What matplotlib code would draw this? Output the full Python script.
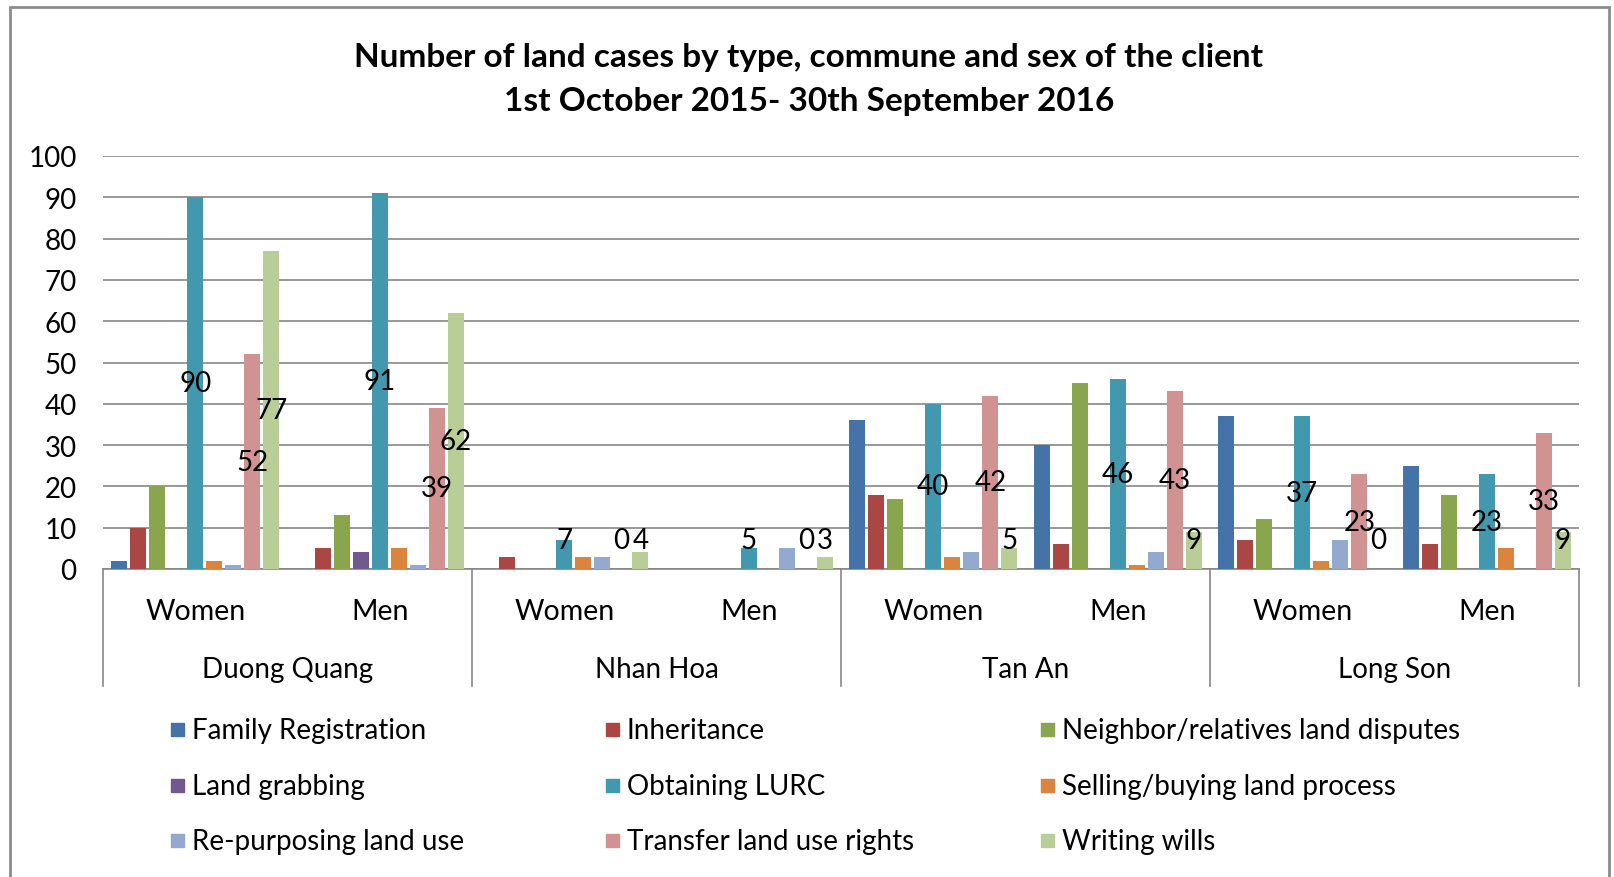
import numpy as np
import matplotlib.pyplot as plt
from matplotlib.patches import Rectangle
from matplotlib.transforms import blended_transform_factory

plt.rcParams['font.family'] = ['Lato', 'DejaVu Sans']

communes = ['Duong Quang', 'Nhan Hoa', 'Tan An', 'Long Son']
sexes = ['Women', 'Men']
series = ['Family Registration', 'Inheritance', 'Neighbor/relatives land disputes',
          'Land grabbing', 'Obtaining LURC', 'Selling/buying land process',
          'Re-purposing land use', 'Transfer land use rights', 'Writing wills']
colors = ['#4572A7', '#AA4643', '#89A54E', '#71588F', '#4198AF', '#DB843D',
          '#93A9CF', '#D19392', '#B9CD96']

# groups: DQ W, DQ M, NH W, NH M, TA W, TA M, LS W, LS M
family_reg = [2, 0, 0, 0, 36, 30, 37, 25]
inheritance = [10, 5, 3, 0, 18, 6, 7, 6]
neighbor = [20, 13, 0, 0, 17, 45, 12, 18]
land_grab = [0, 4, 0, 0, 0, 0, 0, 0]
lurc = [90, 91, 7, 5, 40, 46, 37, 23]
selling = [2, 5, 3, 0, 3, 1, 2, 5]
repurpose = [1, 1, 3, 5, 4, 4, 7, 0]
transfer = [52, 39, 0, 0, 42, 43, 23, 33]
wills = [77, 62, 4, 3, 5, 9, 0, 9]
values = [family_reg, inheritance, neighbor, land_grab, lurc, selling,
          repurpose, transfer, wills]
labelled = [4, 7, 8]

W, H = 1615, 878
fig = plt.figure(figsize=(W / 100, H / 100), dpi=100)
ax = fig.add_axes([103 / W, 1 - 570 / H, (1579 - 103) / W, (570 - 157) / H])

x = np.arange(8)
slot = 0.103
bw = 0.087
for i, (name, vals) in enumerate(zip(series, values)):
    pos = x + (i - 4) * slot
    ax.bar(pos, vals, bw, color=colors[i], zorder=3)
    if i in labelled:
        for px, v in zip(pos, vals):
            ax.text(px, max(v / 2, 7), str(v), ha='center', va='center',
                    fontsize=20, color='black', zorder=4)

ax.set_xlim(-0.5, 7.5)
ax.set_ylim(0, 100)
ax.set_yticks(range(0, 101, 10))
ax.tick_params(axis='y', length=0, labelsize=20, pad=19)
ax.set_xticks([])
ax.grid(axis='y', color='#868686', lw=1.2, zorder=0)
for s in ['left', 'right', 'top']:
    ax.spines[s].set_visible(False)
ax.spines['bottom'].set_color('#868686')
ax.spines['bottom'].set_linewidth(1.2)

# two-level category axis
tr = blended_transform_factory(ax.transData, ax.transAxes)
for g in range(8):
    ax.text(g, -0.102, sexes[g % 2], transform=tr, ha='center', va='center',
            fontsize=20.5)
for c, name in enumerate(communes):
    ax.text(2 * c + 0.5, -0.242, name, transform=tr, ha='center', va='center',
            fontsize=20)
for b in [-0.5, 1.5, 3.5, 5.5, 7.5]:
    ax.plot([b, b], [0, -0.283], transform=tr, color='#868686', lw=1.2,
            clip_on=False)

# title
fig.text(809 / W, 1 - 57 / H, 'Number of land cases by type, commune and sex of the client',
         ha='center', va='center', fontsize=24, fontweight='bold')
fig.text(809 / W, 1 - 101 / H, '1st October 2015- 30th September 2016',
         ha='center', va='center', fontsize=24, fontweight='bold')

# legend
col_x = [171, 606, 1041]
row_y = [731, 787, 842]
for i, name in enumerate(series):
    lx, ly = col_x[i % 3], row_y[i // 3]
    fig.add_artist(Rectangle((lx / W, 1 - (ly + 6) / H), 13 / W, 13 / H,
                             transform=fig.transFigure, color=colors[i]))
    fig.text((lx + 21) / W, 1 - ly / H, name, ha='left', va='center', fontsize=20)

# outer chart border
fig.add_artist(Rectangle((10 / W, -0.01), (1609 - 10) / W, 1 - 8 / H + 0.01,
                         transform=fig.transFigure, fill=False,
                         edgecolor='#8c8c8c', lw=2))

fig.savefig('out.png', dpi=100)
